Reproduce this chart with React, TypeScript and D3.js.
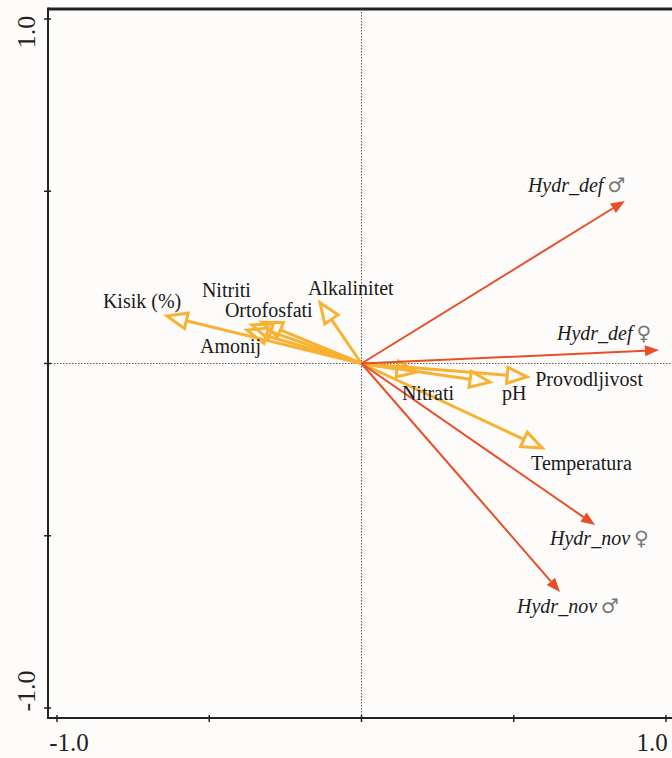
import React from "react";
import * as d3 from "d3";

// ---- data ----
const envNames = ["Kisik (%)", "Nitriti", "Ortofosfati", "Amonij", "Alkalinitet", "Nitrati", "pH", "Provodljivost", "Temperatura"];
const envX = [-0.639, -0.327, -0.36, -0.376, -0.136, 0.182, 0.422, 0.544, 0.593];
const envY = [0.138, 0.12, 0.112, 0.097, 0.176, -0.025, -0.054, -0.039, -0.245];

const spNames = ["Hydr_def", "Hydr_def", "Hydr_nov", "Hydr_nov"];
const spSex = ["♂", "♀", "♀", "♂"];
const spX = [0.865, 0.977, 0.767, 0.652];
const spY = [0.472, 0.039, -0.469, -0.663];

const tickValues = [-1, -0.5, 0, 0.5, 1];
const tickLabels = ["-1.0", "1.0"];

// ---- layout ----
const W = 672, H = 758;
const envLabelOffset: [number, number][] = [
  [-64, -8], [-60, -25], [-27, -8], [-47, 23], [-12, -8], [-15, 28], [12, 18], [8, 9], [-11, 22],
];
const spLabelOffset: [number, number][] = [[-97, -9], [-102, -10], [-45, 20], [-43, 21]];

const YELLOW = "#F8B133";
const RED = "#E84E27";
const BG = "#FDFCFA";
const FONT = "'Liberation Serif', 'Times New Roman', serif";

export default function App() {
  const x = d3.scaleLinear().domain([-1, 1]).range([57, 666]);
  const y = d3.scaleLinear().domain([-1, 1]).range([708, 19]);
  const left = 48, top = 9, bottom = 718, right = W;
  const ox = x(0), oy = y(0);

  const arrowParts = (tx: number, ty: number, len: number, hw: number) => {
    const dx = tx - ox, dy = ty - oy;
    const L = Math.hypot(dx, dy);
    const ux = dx / L, uy = dy / L;
    const bx = tx - ux * len, by = ty - uy * len;
    const px = -uy, py = ux;
    const tri = [[tx, ty], [bx + px * hw, by + py * hw], [bx - px * hw, by - py * hw]];
    return { bx, by, tri: tri.map((p) => p.join(",")).join(" ") };
  };

  return (
    <svg width={W} height={H} style={{ position: "absolute", left: 0, top: 0, background: BG }}>
      <rect x={0} y={0} width={W} height={H} fill={BG} />
      {/* dotted center lines */}
      <line x1={left} x2={right} y1={oy} y2={oy} stroke="#555" strokeWidth={1} strokeDasharray="1.5 1.5" />
      <line x1={ox} x2={ox} y1={top} y2={bottom} stroke="#555" strokeWidth={1} strokeDasharray="1.5 1.5" />
      {/* frame */}
      <line x1={left} x2={right} y1={top} y2={top} stroke="#222" strokeWidth={3} />
      <line x1={left} x2={right} y1={bottom} y2={bottom} stroke="#222" strokeWidth={2} />
      <line x1={left} x2={left} y1={top - 1.5} y2={bottom + 1} stroke="#222" strokeWidth={2} />
      {/* ticks */}
      {tickValues.map((v) => (
        <line key={"xt" + v} x1={x(v)} x2={x(v)} y1={bottom - 3} y2={bottom + 4} stroke="#222" strokeWidth={1.5} />
      ))}
      {tickValues.map((v) => (
        <line key={"yt" + v} x1={left - 4} x2={left + 3} y1={y(v)} y2={y(v)} stroke="#222" strokeWidth={1.5} />
      ))}
      {/* tick labels */}
      <text x={x(-1) + 12} y={751} fontFamily={FONT} fontSize={25} textAnchor="middle" fill="#222">{tickLabels[0]}</text>
      <text x={x(1) - 14} y={751} fontFamily={FONT} fontSize={25} textAnchor="middle" fill="#222">{tickLabels[1]}</text>
      <text transform={`translate(35,${y(1) + 13}) rotate(-90)`} fontFamily={FONT} fontSize={26} textAnchor="middle" fill="#222">{tickLabels[1]}</text>
      <text transform={`translate(35,${y(-1) - 17}) rotate(-90)`} fontFamily={FONT} fontSize={26} textAnchor="middle" fill="#222">{tickLabels[0]}</text>

      {/* environmental arrows */}
      {envNames.map((n, i) => {
        const tx = x(envX[i]), ty = y(envY[i]);
        const a = arrowParts(tx, ty, 20, 8);
        return (
          <g key={n}>
            <line x1={ox} y1={oy} x2={a.bx} y2={a.by} stroke={YELLOW} strokeWidth={3} />
            <polygon points={a.tri} fill={BG} fillOpacity={0} stroke={YELLOW} strokeWidth={3} strokeLinejoin="miter" />
          </g>
        );
      })}
      {/* species arrows */}
      {spNames.map((n, i) => {
        const tx = x(spX[i]), ty = y(spY[i]);
        const a = arrowParts(tx, ty, 14, 5.5);
        return (
          <g key={n + i}>
            <line x1={ox} y1={oy} x2={a.bx} y2={a.by} stroke={RED} strokeWidth={2} />
            <polygon points={a.tri} fill={RED} stroke="none" />
          </g>
        );
      })}
      {/* labels */}
      {envNames.map((n, i) => (
        <text key={"l" + n} x={x(envX[i]) + envLabelOffset[i][0]} y={y(envY[i]) + envLabelOffset[i][1]}
          fontFamily={FONT} fontSize={20} fill="#1a1a1a">{n}</text>
      ))}
      {spNames.map((n, i) => (
        <text key={"s" + i} x={x(spX[i]) + spLabelOffset[i][0]} y={y(spY[i]) + spLabelOffset[i][1]}
          fontFamily={FONT} fontSize={20} fill="#1a1a1a">
          <tspan fontStyle="italic">{n}</tspan>
          <tspan dx={4} fontFamily="'DejaVu Sans', sans-serif" fontSize={20} fill="#777">{spSex[i]}</tspan>
        </text>
      ))}
    </svg>
  );
}
